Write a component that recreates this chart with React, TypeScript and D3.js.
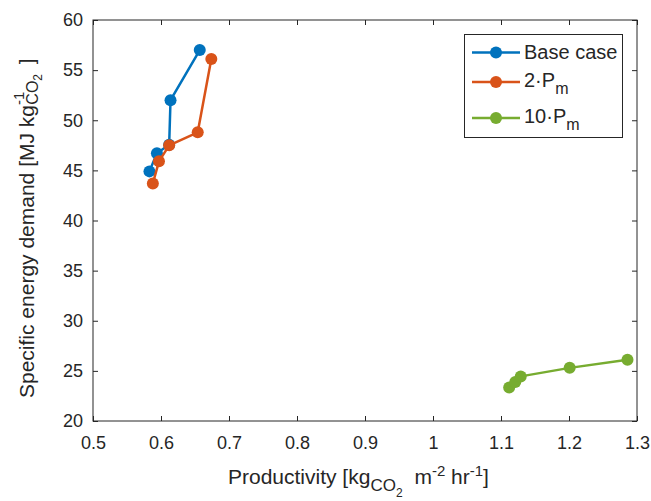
import React, { useEffect, useRef } from 'react';
import * as d3 from 'd3';

// productivity [kgCO2 m-2 hr-1] vs specific energy demand [MJ/kgCO2]
const baseX = [0.583, 0.594, 0.612, 0.614, 0.657];
const baseY = [44.9, 46.7, 47.55, 52.0, 57.0];
const pm2X = [0.588, 0.597, 0.612, 0.654, 0.674];
const pm2Y = [43.7, 45.9, 47.5, 48.8, 56.1];
const pm10X = [1.112, 1.121, 1.129, 1.201, 1.286];
const pm10Y = [23.35, 23.9, 24.45, 25.3, 26.1];

const seriesNames = ['Base case', '2·P', '10·P'];
const seriesColors = ['#0072BD', '#D95319', '#77AC30'];

const xTicks = [0.5, 0.6, 0.7, 0.8, 0.9, 1, 1.1, 1.2, 1.3];
const yTicks = [20, 25, 30, 35, 40, 45, 50, 55, 60];

const FONT = '"Liberation Sans", Arial, Helvetica, sans-serif';
const INK = '#262626';

const App = () => {
  const svgRef = useRef<SVGSVGElement | null>(null);

  useEffect(() => {
    const W = 651, H = 501;
    const margin = { top: 20, right: 14, bottom: 80, left: 93 };
    const width = W - margin.left - margin.right;
    const height = H - margin.top - margin.bottom;

    const root = d3.select(svgRef.current);
    root.selectAll('*').remove();
    root.attr('width', W).attr('height', H);

    const svg = root.append('g')
      .attr('transform', `translate(${margin.left},${margin.top})`);

    const x = d3.scaleLinear().domain([0.5, 1.3]).range([0, width]);
    const y = d3.scaleLinear().domain([20, 60]).range([height, 0]);

    const fmt = d3.format('~g');

    // axes (matlab-style, ticks pointing in)
    const gx = svg.append('g')
      .attr('transform', `translate(0,${height})`)
      .call(d3.axisBottom(x).tickValues(xTicks).tickSize(-5).tickPadding(15).tickFormat(d => fmt(d as number)));
    const gy = svg.append('g')
      .call(d3.axisLeft(y).tickValues(yTicks).tickSize(-5).tickPadding(10).tickFormat(d => fmt(d as number)));
    const gt = svg.append('g')
      .call(d3.axisTop(x).tickValues(xTicks).tickSize(-5).tickFormat(() => ''));
    const gr = svg.append('g')
      .attr('transform', `translate(${width},0)`)
      .call(d3.axisRight(y).tickValues(yTicks).tickSize(-5).tickFormat(() => ''));

    [gx, gy, gt, gr].forEach(g => {
      g.select('.domain').remove();
      g.selectAll('line').attr('stroke', INK);
      g.selectAll('text')
        .attr('fill', INK)
        .style('font-family', FONT)
        .style('font-size', '18px');
    });

    svg.append('rect')
      .attr('x', 0).attr('y', 0)
      .attr('width', width).attr('height', height)
      .attr('fill', 'none')
      .attr('stroke', INK)
      .attr('stroke-width', 1);

    // series
    const series = [
      d3.zip(baseX, baseY),
      d3.zip(pm2X, pm2Y),
      d3.zip(pm10X, pm10Y),
    ];
    const line = d3.line<number[]>().x(d => x(d[0])).y(d => y(d[1]));

    series.forEach((pts, i) => {
      svg.append('path')
        .datum(pts)
        .attr('d', line)
        .attr('fill', 'none')
        .attr('stroke', seriesColors[i])
        .attr('stroke-width', 2.5)
        .attr('stroke-linejoin', 'round');
      svg.selectAll(`.pt${i}`)
        .data(pts)
        .enter()
        .append('circle')
        .attr('class', `pt${i}`)
        .attr('cx', d => x(d[0]))
        .attr('cy', d => y(d[1]))
        .attr('r', 6)
        .attr('fill', seriesColors[i]);
    });

    // axis labels
    const xl = root.append('text')
      .attr('x', 228)
      .attr('y', 484)
      .attr('fill', INK)
      .style('font-family', FONT)
      .style('font-size', '21px');
    xl.append('tspan').text('Productivity [kg');
    xl.append('tspan').attr('dy', 7).style('font-size', '17px').text('CO');
    xl.append('tspan').attr('dy', 6).style('font-size', '12px').text('2');
    xl.append('tspan').attr('dx', 6).attr('dy', -13).text(' m');
    xl.append('tspan').attr('dy', -8).style('font-size', '15px').text('-2');
    xl.append('tspan').attr('dy', 8).text(' hr');
    xl.append('tspan').attr('dy', -8).style('font-size', '15px').text('-1');
    xl.append('tspan').attr('dy', 8).text(']');

    const yl = root.append('text')
      .attr('transform', `translate(34,398) rotate(-90)`)
      .attr('fill', INK)
      .style('font-family', FONT)
      .style('font-size', '21px');
    yl.append('tspan').text('Specific energy demand [MJ kg');
    yl.append('tspan').attr('dy', -10).style('font-size', '15px').text('-1');
    yl.append('tspan').attr('dx', -13).attr('dy', 14).style('font-size', '16px').text('CO');
    yl.append('tspan').attr('dy', 4).style('font-size', '12px').text('2');
    yl.append('tspan').attr('dx', 4).attr('dy', -8).text(' ]');

    // legend
    const lg = root.append('g');
    lg.append('rect')
      .attr('x', 464.5).attr('y', 34.5)
      .attr('width', 158).attr('height', 103)
      .attr('fill', '#fff')
      .attr('stroke', INK)
      .attr('stroke-width', 1);
    const rowY = [52.5, 82, 118];
    seriesNames.forEach((name, i) => {
      const ly = rowY[i];
      lg.append('line')
        .attr('x1', 472).attr('x2', 520)
        .attr('y1', ly).attr('y2', ly)
        .attr('stroke', seriesColors[i])
        .attr('stroke-width', 2.5);
      lg.append('circle')
        .attr('cx', 496).attr('cy', ly).attr('r', 6)
        .attr('fill', seriesColors[i]);
      const t = lg.append('text')
        .attr('x', 524)
        .attr('y', ly + (i === 0 ? 6.5 : 5))
        .attr('fill', INK)
        .style('font-family', FONT)
        .style('font-size', '20px');
      t.append('tspan').text(name);
      if (i > 0) {
        t.append('tspan').attr('dy', 7).style('font-size', '16px').text('m');
      }
    });
  }, []);

  return (
    <div style={{ position: 'absolute', left: 0, top: 0 }}>
      <svg ref={svgRef} style={{ display: 'block' }}></svg>
    </div>
  );
};

export default App;
